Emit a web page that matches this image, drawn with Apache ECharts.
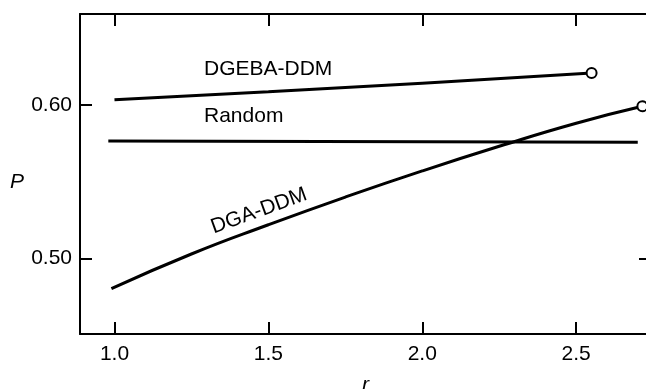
<!DOCTYPE html>
<html>
<head>
<meta charset="utf-8">
<script src="https://cdn.jsdelivr.net/npm/echarts@6/dist/echarts.min.js"></script>
<style>html,body{margin:0;padding:0;background:#fff}#c{width:646px;height:389px}</style>
</head>
<body>
<div id="c"></div>
<script>
// Data
var xTicks = [1.0, 1.5, 2.0, 2.5];
var xTickLabels = ['1.0', '1.5', '2.0', '2.5'];
var yTicks = [0.50, 0.60];
var yTickLabels = ['0.50', '0.60'];

var dgebaR = [1.0, 1.5, 2.0, 2.55];
var dgebaP = [0.6033, 0.6085, 0.6140, 0.6207];

var randomR = [0.98, 2.70];
var randomP = [0.5765, 0.5756];

var dgaR = [0.99, 1.25, 1.5, 1.75, 2.0, 2.25, 2.5, 2.715];
var dgaP = [0.4805, 0.503, 0.522, 0.540, 0.557, 0.573, 0.588, 0.599];

function pairs(xs, ys) { return xs.map(function (x, i) { return [x, ys[i]]; }); }

var FONT = 'Liberation Sans';
var chart = echarts.init(document.getElementById('c'), null, { renderer: 'canvas' });

var axisLineStyle = { color: '#000', width: 2 };
var tickStyle = { color: '#000', width: 2 };

chart.setOption({
  animation: false,
  backgroundColor: '#fff',
  grid: { left: 80, right: -5, top: 14, bottom: 55, containLabel: false, outerBoundsMode: 'none' },
  xAxis: [{
    type: 'value', position: 'bottom', min: 0.888, max: 2.743,
    axisLine: { show: true, onZero: false, lineStyle: axisLineStyle },
    axisTick: { show: true, inside: true, length: 12, customValues: xTicks, lineStyle: tickStyle },
    axisLabel: { show: true, customValues: xTicks, margin: 10, color: '#000', fontFamily: FONT, fontSize: 21,
      formatter: function (v) { var i = xTicks.indexOf(v); return i >= 0 ? xTickLabels[i] : ''; } },
    splitLine: { show: false },
    name: 'r', nameLocation: 'middle', nameGap: 41,
    nameTextStyle: { color: '#000', fontFamily: FONT, fontSize: 21, fontStyle: 'italic' }
  }, {
    type: 'value', position: 'top', min: 0.888, max: 2.743,
    axisLine: { show: true, onZero: false, lineStyle: axisLineStyle },
    axisTick: { show: true, inside: true, length: 12, customValues: xTicks, lineStyle: tickStyle },
    axisLabel: { show: false },
    splitLine: { show: false }
  }],
  yAxis: [{
    type: 'value', position: 'left', min: 0.451, max: 0.659,
    axisLine: { show: true, onZero: false, lineStyle: axisLineStyle },
    axisTick: { show: true, inside: true, length: 12, customValues: yTicks, lineStyle: tickStyle },
    axisLabel: { show: true, customValues: yTicks, margin: 8, color: '#000', fontFamily: FONT, fontSize: 21,
      formatter: function (v) { var i = yTicks.indexOf(v); return i >= 0 ? yTickLabels[i] : ''; } },
    splitLine: { show: false }
  }, {
    type: 'value', position: 'right', min: 0.451, max: 0.659,
    axisLine: { show: true, onZero: false, lineStyle: axisLineStyle },
    axisTick: { show: true, inside: true, length: 12, customValues: yTicks, lineStyle: tickStyle },
    axisLabel: { show: false },
    splitLine: { show: false }
  }],
  series: [{
    name: 'DGEBA-DDM', type: 'line', smooth: true, xAxisIndex: 0, yAxisIndex: 0,
    data: pairs(dgebaR, dgebaP),
    lineStyle: { color: '#000', width: 3 },
    symbol: function (v, p) { return p.dataIndex === dgebaR.length - 1 ? 'emptyCircle' : 'none'; },
    symbolSize: 10,
    itemStyle: { color: '#000', borderColor: '#000', borderWidth: 2 },
    showSymbol: true
  }, {
    name: 'Random', type: 'line', xAxisIndex: 0, yAxisIndex: 0,
    data: pairs(randomR, randomP),
    lineStyle: { color: '#000', width: 3 },
    symbol: 'none'
  }, {
    name: 'DGA-DDM', type: 'line', smooth: true, xAxisIndex: 0, yAxisIndex: 0,
    data: pairs(dgaR, dgaP),
    lineStyle: { color: '#000', width: 3 },
    symbol: function (v, p) { return p.dataIndex === dgaR.length - 1 ? 'emptyCircle' : 'none'; },
    symbolSize: 10,
    itemStyle: { color: '#000', borderColor: '#000', borderWidth: 2 },
    showSymbol: true
  }],
  graphic: [
    { type: 'text', left: 10, top: 172, style: { text: 'P', font: 'italic 21px "Liberation Sans"', fill: '#000' } },
    { type: 'text', left: 204, top: 59, style: { text: 'DGEBA-DDM', font: '21px "Liberation Sans"', fill: '#000' } },
    { type: 'text', left: 204, top: 106, style: { text: 'Random', font: '21px "Liberation Sans"', fill: '#000' } },
    { type: 'text', x: 259, y: 211, rotation: 20 * Math.PI / 180,
      style: { text: 'DGA-DDM', font: '21px "Liberation Sans"', fill: '#000', align: 'center', verticalAlign: 'middle' } }
  ]
});
</script>
</body>
</html>
